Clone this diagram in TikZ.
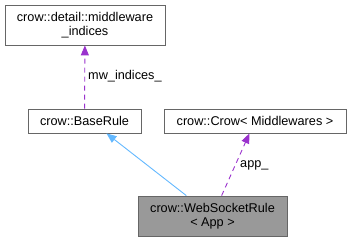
\documentclass[tikz,border=0pt]{standalone}
\usepackage{fontspec}
\setmainfont{Liberation Sans}
\usepackage{tikz}
\usetikzlibrary{arrows.meta,positioning,calc}
\definecolor{boxline}{HTML}{666666}
\definecolor{focusfill}{HTML}{999999}
\definecolor{inherit}{HTML}{63B8FF}
\definecolor{usage}{HTML}{9A32CD}
\tikzset{
  classbox/.style={draw=boxline,fill=white,align=center,line width=0.8pt,
    font=\fontsize{12.7}{14.5}\selectfont,inner sep=0pt},
  focusbox/.style={classbox,fill=focusfill},
  inheritarrow/.style={-{Triangle[length=10pt,width=8pt]},draw=inherit,line width=0.9pt},
  usagearrow/.style={-{Triangle[length=10pt,width=8pt]},draw=usage,line width=0.9pt,
    dash pattern=on 5pt off 4pt},
  edgelabel/.style={font=\fontsize{12.7}{14.5}\selectfont,inner sep=0pt,anchor=west}
}

\begin{document}
\begin{tikzpicture}[x=1pt,y=-1pt]
  \useasboundingbox (0,0) rectangle (351,241);
  \node[classbox,minimum width=160pt,minimum height=40pt] (mwidx) at (85,25) {crow::detail::middleware\\\_indices};
  \node[classbox,minimum width=113pt,minimum height=24pt] (base) at (84.5,121) {crow::BaseRule};
  \node[classbox,minimum width=182pt,minimum height=24pt] (crow) at (255,121) {crow::Crow< Middlewares >};
  \node[focusbox,minimum width=149pt,minimum height=40pt] (wsr) at (212.5,216) {crow::WebSocketRule\\< App >};
  \draw[usagearrow] (base) -- (mwidx);
  \draw[inheritarrow] (wsr) -- ($(base.south)+(22,0)$);
  \draw[usagearrow] (wsr) -- (crow);
  \node[edgelabel] (mwlabel) at (88,76) {mw\_indices\_};
  \node[edgelabel] (applabel) at (240,165) {app\_};
\end{tikzpicture}
\end{document}
